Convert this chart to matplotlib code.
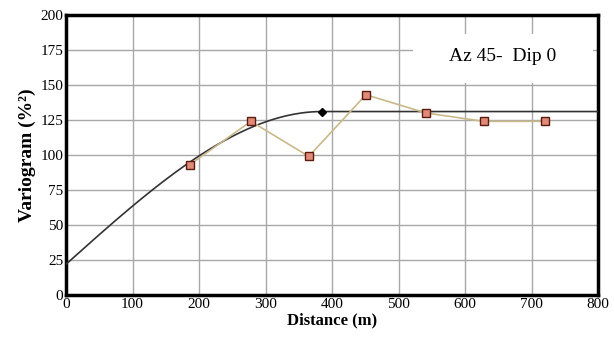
import matplotlib
matplotlib.use("Agg")
import matplotlib.pyplot as plt
from matplotlib.patches import Rectangle
import numpy as np

# experimental variogram points
lag_dist = [186, 278, 365, 451, 541, 628, 720]
gamma_exp = [93, 124, 99, 143, 130, 124, 124]

# spherical model parameters
nugget = 22
sill = 131
model_range = 385

x_ticks = [0, 100, 200, 300, 400, 500, 600, 700, 800]
y_ticks = [0, 25, 50, 75, 100, 125, 150, 175, 200]

plt.rcParams['font.family'] = ['Liberation Serif', 'DejaVu Serif']

fig = plt.figure(figsize=(6.14, 3.38), dpi=100)
ax = fig.add_axes([0.1075, 0.127, 0.8665, 0.829])

# model curve
h = np.linspace(0, 800, 400)
r = np.clip(h / model_range, 0, 1)
gamma_model = nugget + (sill - nugget) * (1.5 * r - 0.5 * r ** 3)
ax.plot(h, gamma_model, color="#333333", lw=1.2, zorder=3)
ax.plot([model_range], [sill], marker="D", color="black", ms=4, zorder=4)

ax.plot(lag_dist, gamma_exp, color="#c9b98a", lw=1.2, marker="s", ms=5.5,
        mfc="#e08a78", mec="#5a1a10", mew=1.0, zorder=5)

ax.set_xlim(0, 800)
ax.set_ylim(0, 200)
ax.set_xticks(x_ticks)
ax.set_yticks(y_ticks)
ax.tick_params(length=0, labelsize=11, pad=2)
ax.grid(True, color="#a8a8a8", lw=1.0)
for s in ax.spines.values():
    s.set_linewidth(2.5)
    s.set_color("black")

ax.set_xlabel("Distance (m)", fontsize=12, fontweight="bold", labelpad=1)
ax.set_ylabel("Variogram (%\u00b2)", fontsize=14, fontweight="bold", labelpad=3)

# label box
ax.add_patch(Rectangle((0.652, 0.757), 0.338, 0.173, transform=ax.transAxes,
                       fc="white", ec="none", zorder=6))
ax.text(0.82, 0.85, "Az 45-  Dip 0", transform=ax.transAxes, ha="center", va="center",
        fontsize=14, zorder=7)

fig.savefig("out.png", dpi=100)
